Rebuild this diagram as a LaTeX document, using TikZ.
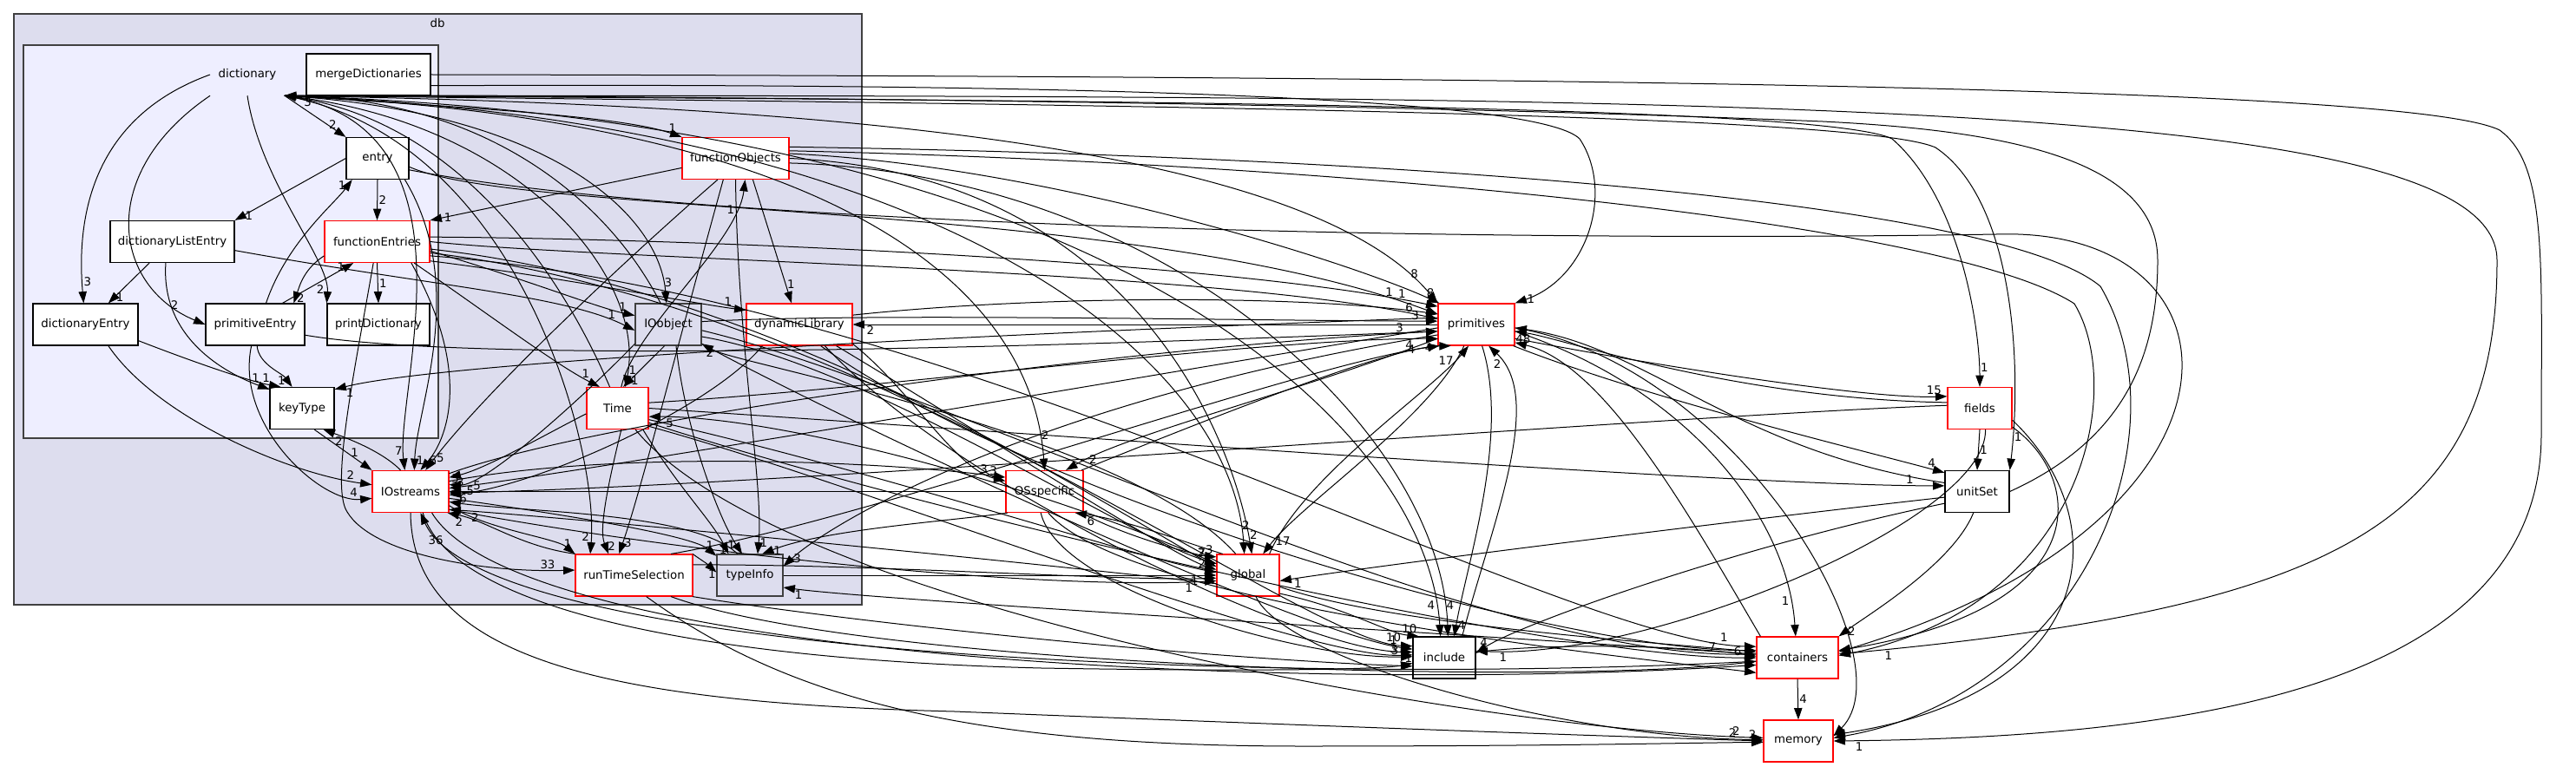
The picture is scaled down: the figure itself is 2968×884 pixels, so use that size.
\documentclass[tikz,border=0pt]{standalone}
\usepackage{fontspec}
\setmainfont{DejaVu Sans}
\usetikzlibrary{arrows.meta}
\definecolor{dbfill}{HTML}{DDDDEE}
\definecolor{dictfill}{HTML}{EEEEFF}
\definecolor{framegrey}{HTML}{404040}
\tikzset{
  txt/.style={font=\fontsize{10}{12}\selectfont, inner sep=1pt},
  dirbox/.style={draw=black, fill=white, line width=0.9pt, minimum height=36pt, inner sep=0pt, font=\fontsize{10}{12}\selectfont},
  cutbox/.style={dirbox, draw=red},
  dbbox/.style={dirbox, fill=dbfill, draw=framegrey},
  clusterline/.style={draw=framegrey, line width=1pt},
  dep/.style={-{Triangle[length=10pt,width=7pt]}, line width=0.75pt},
  num/.style={font=\fontsize{10}{12}\selectfont, inner sep=1pt},
}
\begin{document}
\begin{tikzpicture}[x=0.75pt,y=-0.75pt]
  \useasboundingbox (0,0) rectangle (2968,884);
  % clusters
  \draw[clusterline,fill=dbfill] (16,16) rectangle (993,697);
  \node[txt] at (504,27) {db};
  \draw[clusterline,fill=dictfill] (27,52) rectangle (505,505);
  % directories
  \node[txt,minimum width=64pt,minimum height=36pt,inner sep=0pt] (dict) at (285,86) {dictionary};
  \node[dirbox,minimum width=107.25pt] (mergeDict) at (424.5,86) {mergeDictionaries};
  \node[dirbox,minimum width=54pt] (entry) at (435,182.5) {entry};
  \node[dirbox,minimum width=107.25pt] (dictListEntry) at (198.5,278.5) {dictionaryListEntry};
  \node[cutbox,minimum width=90.75pt] (funcEntries) at (434.5,278.5) {functionEntries};
  \node[dirbox,minimum width=90.75pt] (dictEntry) at (98.5,374) {dictionaryEntry};
  \node[dirbox,minimum width=85.5pt] (primEntry) at (294,374) {primitiveEntry};
  \node[dirbox,minimum width=88.5pt] (printDict) at (436,374) {printDictionary};
  \node[dirbox,minimum width=55.5pt] (keyType) at (348,470.5) {keyType};
  \node[dbbox,minimum width=57pt] (IOobject) at (770,374) {IOobject};
  \node[cutbox,minimum width=91.5pt] (dynLib) at (921,374) {dynamicLibrary};
  \node[cutbox,minimum width=92.25pt] (funcObjects) at (847.5,182.5) {functionObjects};
  \node[cutbox,minimum width=53.25pt] (Time) at (711.5,470.5) {Time};
  \node[cutbox,minimum width=66pt] (IOstreams) at (473,566.5) {IOstreams};
  \node[cutbox,minimum width=101.25pt] (rts) at (730.5,663) {runTimeSelection};
  \node[dbbox,minimum width=57pt] (typeInfo) at (864,663) {typeInfo};
  \node[cutbox,minimum width=66pt] (primitives) at (1701,374) {primitives};
  \node[cutbox,minimum width=66.75pt] (OSspecific) at (1203.5,566.5) {OSspecific};
  \node[cutbox,minimum width=54pt] (global) at (1438,663) {global};
  \node[dirbox,minimum width=54pt] (include) at (1664,758) {include};
  \node[cutbox,minimum width=55.5pt] (fields) at (2281,470.5) {fields};
  \node[dirbox,minimum width=55.5pt] (unitSet) at (2278,566.5) {unitSet};
  \node[cutbox,minimum width=70.5pt] (containers) at (2071,758) {containers};
  \node[cutbox,minimum width=60pt] (memory) at (2072,854) {memory};
  % inside dictionary
  \draw[dep] (dict.south east) -- (entry.north west) node[num,pos=0.7,right]{2};
  \draw[dep] (dict.west) .. controls (120,130) and (86,230) .. (dictEntry.95) node[num,pos=0.93,right]{3};
  \draw[dep] (dict.south west) .. controls (110,200) and (130,330) .. (primEntry.west) node[num,pos=0.9,above left]{2};
  \draw[dep] (dict.south) .. controls (300,210) and (380,300) .. (printDict.north west) node[num,pos=0.9,left]{2};
  \draw[dep] (entry.west) -- (dictListEntry.north east) node[num,pos=0.92,right]{1};
  \draw[dep] (entry.south) -- (funcEntries.north) node[num,midway,right]{2};
  \draw[dep] (dictListEntry.-137) -- (dictEntry.43) node[num,pos=0.85,right]{1};
  \draw[dep] (dictListEntry.-107) .. controls (185,390) and (260,430) .. (keyType.150) node[num,pos=0.9,above]{1};
  \draw[dep] (dictEntry.-17) .. controls (230,420) and (290,440) .. (keyType.135) node[num,pos=0.85,above]{1};
  \draw[dep] (dictEntry.-43) .. controls (180,480) and (330,545) .. (IOstreams.170) node[num,pos=0.92,above]{2};
  \draw[dep] (primEntry.63) .. controls (330,280) and (385,235) .. (entry.-140) node[num,pos=0.92,left]{1};
  \draw[dep] (primEntry.38) -- (funcEntries.-138) node[num,pos=0.9,left]{1};
  \draw[dep] (funcEntries.-165) .. controls (350,310) and (345,330) .. (primEntry.29) node[num,pos=0.9,right]{2};
  \draw[dep] (primEntry.-85) .. controls (298,420) and (325,430) .. (keyType.115) node[num,pos=0.85,left]{1};
  \draw[dep] (primEntry.-100) .. controls (270,490) and (370,580) .. (IOstreams.190) node[num,pos=0.92,above left]{4};
  \draw[dep] (funcEntries.south) -- (printDict.north) node[num,midway,right]{1};
  \draw[dep] (keyType.-60) -- (IOstreams.north west) node[num,pos=0.7,above]{1};
  \draw[dep] (IOstreams.115) .. controls (440,520) and (400,505) .. (keyType.-45) node[num,pos=0.8,below]{2};
  % dictionary to the rest
  \draw[dep] (dict.south east) .. controls (560,145) and (455,450) .. (IOstreams.105) node[num,pos=0.95,above left]{7};
  \draw[dep] (dict.south east) .. controls (560,125) and (720,135) .. (funcObjects.north west) node[num,pos=0.95,above]{1};
  \draw[dep] (dict.south east) .. controls (640,130) and (760,250) .. (IOobject.95) node[num,pos=0.92,right]{3};
  \draw[dep] (IOobject.110) .. controls (700,230) and (560,115) .. (dict.south east) node[num,pos=0.97,below right]{3};
  \draw[dep] (dict.south east) .. controls (600,140) and (745,320) .. (Time.70) node[num,pos=0.95,right]{1};
  \draw[dep] (Time.110) .. controls (640,300) and (520,140) .. (dict.south east);
  \draw[dep] (dict.south east) .. controls (900,120) and (1500,160) .. (primitives.north west) node[num,pos=0.95,above]{8};
  \draw[dep] (dict.south east) .. controls (1000,140) and (1190,350) .. (OSspecific.north) node[num,pos=0.93,right]{2};
  \draw[dep] (dict.south east) .. controls (1100,140) and (1420,420) .. (global.100) node[num,pos=0.95,right]{2};
  \draw[dep] (dict.south east) .. controls (1300,140) and (1645,500) .. (include.100) node[num,pos=0.95,left]{4};
  \draw[dep] (dict.south east) .. controls (1200,115) and (2100,120) .. (2180,160) .. controls (2260,230) and (2281,380) .. (fields.north) node[num,pos=0.9,right]{1};
  \draw[dep] (dict.south east) .. controls (1250,120) and (2140,130) .. (2230,170) .. controls (2320,230) and (2330,420) .. (unitSet.north east) node[num,pos=0.9,right]{1};
  \draw[dep] (unitSet.east) .. controls (2440,510) and (2486,420) .. (2486,300) .. controls (2486,180) and (2300,150) .. (2100,140) .. controls (1500,115) and (600,110) .. (dict.south east);
  \draw[dep] (dict.south east) .. controls (2000,110) and (2877,110) .. (2877,300) .. controls (2877,600) and (2700,700) .. (containers.5) node[num,pos=0.97,below right]{1};
  \draw[dep] (dict.south east) .. controls (600,160) and (690,520) .. (rts.154) node[num,pos=0.95,left]{2};
  \draw[dep] (mergeDict.east) .. controls (1800,88) and (2780,100) .. (2880,150) .. controls (2935,190) and (2928,300) .. (2928,500) .. controls (2928,800) and (2500,850) .. (memory.east) node[num,pos=0.98,below right]{1};
  \draw[dep] (mergeDict.-10) .. controls (1400,95) and (1780,120) .. (1820,160) .. controls (1860,220) and (1830,320) .. (primitives.north east) node[num,pos=0.95,right]{1};
  % entry
  \draw[dep] (entry.-38) .. controls (540,330) and (480,470) .. (IOstreams.80) node[num,pos=0.95,right]{1};
  \draw[dep] (entry.-15) .. controls (600,250) and (1300,230) .. (primitives.165) node[num,pos=0.95,above]{1};
  \draw[dep] (entry.-20) .. controls (800,260) and (1700,280) .. (2300,270) .. controls (2600,260) and (2620,600) .. (containers.8);
  \draw[dep] (dictListEntry.-8) .. controls (500,330) and (650,340) .. (IOobject.190) node[num,pos=0.9,above]{1};
  \draw[dep] (primEntry.-12) .. controls (550,420) and (1200,400) .. (primitives.-170);
  % functionEntries
  \draw[dep] (funcEntries.5) .. controls (800,275) and (1400,300) .. (primitives.155) node[num,pos=0.95,above]{1};
  \draw[dep] (funcEntries.0) .. controls (700,300) and (1400,310) .. (primitives.172) node[num,pos=0.96,above]{6};
  \draw[dep] (funcEntries.-10) .. controls (600,320) and (690,355) .. (IOobject.165) node[num,pos=0.9,above]{1};
  \draw[dep] (funcEntries.-20) .. controls (650,320) and (800,350) .. (dynLib.165) node[num,pos=0.9,above]{1};
  \draw[dep] (funcEntries.-30) .. controls (560,360) and (640,420) .. (Time.130) node[num,pos=0.9,above]{1};
  \draw[dep] (funcEntries.-32) .. controls (540,420) and (520,500) .. (IOstreams.65) node[num,pos=0.92,right]{6};
  \draw[dep] (funcEntries.-100) .. controls (410,420) and (380,560) .. (400,590) .. controls (430,640) and (560,660) .. (rts.175) node[num,pos=0.9,above]{33};
  \draw[dep] (funcEntries.-8) .. controls (900,330) and (1300,600) .. (global.165) node[num,pos=0.95,above]{2};
  \draw[dep] (funcEntries.-12) .. controls (1000,350) and (1500,740) .. (include.160) node[num,pos=0.95,above]{10};
  \draw[dep] (funcEntries.-15) .. controls (1100,340) and (1800,740) .. (containers.165) node[num,pos=0.95,above]{1};
  % functionObjects
  \draw[dep] (funcObjects.-170) -- (funcEntries.north east) node[num,pos=0.95,right]{1};
  \draw[dep] (funcObjects.-51) -- (dynLib.110) node[num,pos=0.85,right]{1};
  \draw[dep] (Time.80) .. controls (730,380) and (850,280) .. (funcObjects.-66) node[num,pos=0.85,left]{1};
  \draw[dep] (funcObjects.-130) .. controls (720,300) and (560,450) .. (IOstreams.55) node[num,pos=0.95,right]{5};
  \draw[dep] (funcObjects.-120) .. controls (780,400) and (740,560) .. (rts.125) node[num,pos=0.95,right]{3};
  \draw[dep] (funcObjects.-90) .. controls (850,400) and (880,560) .. (typeInfo.70) node[num,pos=0.95,right]{1};
  \draw[dep] (funcObjects.5) .. controls (1200,190) and (1550,300) .. (primitives.150) node[num,pos=0.97,above]{8};
  \draw[dep] (funcObjects.0) .. controls (1300,200) and (1420,500) .. (global.80) node[num,pos=0.95,right]{2};
  \draw[dep] (funcObjects.-5) .. controls (1350,200) and (1660,500) .. (include.80) node[num,pos=0.95,right]{4};
  \draw[dep] (funcObjects.8) .. controls (1600,190) and (2250,260) .. (2390,350) .. controls (2450,450) and (2400,700) .. (containers.3);
  \draw[dep] (funcObjects.12) .. controls (1600,180) and (2300,230) .. (2420,330) .. controls (2520,500) and (2400,800) .. (memory.5);
  % IOobject
  \draw[dep] (IOobject.-150) .. controls (680,450) and (560,560) .. (IOstreams.10) node[num,pos=0.95,above]{5};
  \draw[dep] (IOobject.-70) .. controls (790,500) and (830,600) .. (typeInfo.110) node[num,pos=0.92,left]{1};
  \draw[dep] (IOobject.-100) -- (Time.75) node[num,pos=0.85,right]{1};
  \draw[dep] (IOobject.5) .. controls (1000,360) and (1450,370) .. (primitives.175) node[num,pos=0.96,above]{3};
  \draw[dep] (IOobject.-20) .. controls (1000,420) and (1300,620) .. (global.160) node[num,pos=0.95,above]{7};
  \draw[dep] (IOobject.-30) .. controls (1000,500) and (1500,730) .. (include.165) node[num,pos=0.95,above]{1};
  \draw[dep] (IOobject.-10) .. controls (1100,450) and (1700,760) .. (containers.175) node[num,pos=0.95,above]{7};
  % dynamicLibrary
  \draw[dep] (dynLib.-20) .. controls (1050,450) and (1100,540) .. (OSspecific.165) node[num,pos=0.92,above]{3};
  \draw[dep] (dynLib.-150) .. controls (820,470) and (620,560) .. (IOstreams.-5) node[num,pos=0.95,below]{6};
  \draw[dep] (dynLib.-30) .. controls (1100,480) and (1350,640) .. (global.170) node[num,pos=0.95,above]{1};
  \draw[dep] (dynLib.-40) .. controls (1100,560) and (1500,750) .. (include.170);
  \draw[dep] (dynLib.-45) .. controls (1200,580) and (1800,750) .. (containers.170);
  \draw[dep] (primitives.180) -- (dynLib.east) node[num,pos=0.97,below]{2};
  \draw[dep] (dynLib.10) .. controls (1200,340) and (1500,340) .. (primitives.165);
  % Time
  \draw[dep] (Time.-170) .. controls (630,500) and (560,540) .. (IOstreams.20) node[num,pos=0.95,below right]{3};
  \draw[dep] (Time.-80) .. controls (700,560) and (690,610) .. (rts.140) node[num,pos=0.9,right]{2};
  \draw[dep] (Time.-40) .. controls (780,560) and (820,600) .. (typeInfo.135) node[num,pos=0.9,below]{1};
  \draw[dep] (Time.10) .. controls (1000,450) and (1450,390) .. (primitives.-160) node[num,pos=0.95,below]{4};
  \draw[dep] (Time.-20) .. controls (1000,540) and (1300,640) .. (global.175) node[num,pos=0.95,above]{2};
  \draw[dep] (Time.-30) .. controls (1000,560) and (1500,760) .. (include.175) node[num,pos=0.95,above]{3};
  \draw[dep] (Time.-25) .. controls (1100,600) and (1800,760) .. (containers.180) node[num,pos=0.97,above]{6};
  \draw[dep] (Time.-50) .. controls (900,700) and (1700,840) .. (memory.175) node[num,pos=0.97,above]{2};
  \draw[dep] (Time.0) .. controls (1200,500) and (2000,560) .. (unitSet.170) node[num,pos=0.95,above]{1};
  % IOstreams
  \draw[dep] (IOstreams.15) .. controls (700,520) and (1000,530) .. (OSspecific.160) node[num,pos=0.95,above]{3};
  \draw[dep] (IOstreams.-25) .. controls (800,640) and (1200,680) .. (global.-170) node[num,pos=0.95,below]{1};
  \draw[dep] (IOstreams.-90) .. controls (475,760) and (700,810) .. (1100,820) .. controls (1600,840) and (1900,850) .. (memory.180) node[num,pos=0.97,above]{2};
  \draw[dep] (IOstreams.-60) .. controls (520,700) and (800,760) .. (1200,770) .. controls (1500,775) and (1600,770) .. (include.-170) node[num,pos=0.95,above]{1};
  \draw[dep] (IOstreams.-45) .. controls (600,760) and (1500,800) .. (containers.-170);
  \draw[dep] (IOstreams.-20) .. controls (560,610) and (640,620) .. (rts.north west) node[num,pos=0.9,above]{1};
  \draw[dep] (IOstreams.-10) .. controls (700,600) and (800,620) .. (typeInfo.150) node[num,pos=0.92,above]{1};
  \draw[dep] (IOstreams.25) .. controls (700,480) and (1300,400) .. (primitives.-170) node[num,pos=0.96,above]{3};
  % runTimeSelection
  \draw[dep] (rts.160) .. controls (600,630) and (560,600) .. (IOstreams.-30) node[num,pos=0.9,below]{2};
  \draw[dep] (rts.20) .. controls (800,640) and (815,650) .. (typeInfo.175) node[num,pos=0.85,below]{1};
  \draw[dep] (rts.-20) .. controls (1000,720) and (1400,760) .. (include.-165);
  \draw[dep] (rts.-30) .. controls (1000,770) and (1800,790) .. (containers.-175);
  \draw[dep] (rts.-60) .. controls (900,800) and (1100,860) .. (1500,860) .. controls (1800,860) and (1950,856) .. (memory.-178);
  \draw[dep] (rts.30) .. controls (1000,600) and (1500,420) .. (primitives.-150) node[num,pos=0.95,left]{4};
  \draw[dep] (rts.10) .. controls (1000,650) and (1300,670) .. (global.-175);
  % typeInfo
  \draw[dep] (typeInfo.east) -- (global.west) node[num,pos=0.95,below]{1};
  \draw[dep] (typeInfo.120) .. controls (800,590) and (600,590) .. (IOstreams.-15);
  % primitives
  \draw[dep] (global.45) .. controls (1500,550) and (1650,450) .. (primitives.-110) node[num,pos=0.9,left]{17};
  \draw[dep] (primitives.-120) .. controls (1650,480) and (1500,580) .. (global.55) node[num,pos=0.92,right]{17};
  \draw[dep] (primitives.-75) .. controls (1740,500) and (1690,650) .. (include.65) node[num,pos=0.95,right]{4};
  \draw[dep] (include.50) .. controls (1720,600) and (1780,460) .. (primitives.-60) node[num,pos=0.9,left]{2};
  \draw[dep] (primitives.-175) .. controls (1400,420) and (700,540) .. (IOstreams.5) node[num,pos=0.96,below]{5};
  \draw[dep] (primitives.-20) .. controls (1900,420) and (2150,460) .. (fields.160) node[num,pos=0.95,above]{15};
  \draw[dep] (primitives.-30) .. controls (1900,460) and (2150,520) .. (unitSet.150) node[num,pos=0.95,above]{4};
  \draw[dep] (primitives.-160) .. controls (1500,450) and (1300,500) .. (OSspecific.45) node[num,pos=0.9,right]{2};
  \draw[dep] (primitives.-10) .. controls (1950,450) and (2060,600) .. (containers.95) node[num,pos=0.9,left]{1};
  \draw[dep] (primitives.-165) .. controls (1200,460) and (960,600) .. (typeInfo.15) node[num,pos=0.95,right]{3};
  \draw[dep] (primitives.170) .. controls (1000,390) and (500,420) .. (keyType.30) node[num,pos=0.97,below right]{1};
  \draw[dep] (primitives.-5) .. controls (2000,420) and (2200,760) .. (memory.8);
  % OSspecific
  \draw[dep] (OSspecific.west) -- (IOstreams.east) node[num,pos=0.95,above]{5};
  \draw[dep] (OSspecific.-30) .. controls (1300,620) and (1380,640) .. (global.150) node[num,pos=0.9,above]{3};
  \draw[dep] (global.140) .. controls (1350,620) and (1300,600) .. (OSspecific.-35) node[num,pos=0.9,below]{6};
  \draw[dep] (OSspecific.30) .. controls (1400,480) and (1600,400) .. (primitives.-140) node[num,pos=0.92,left]{4};
  \draw[dep] (OSspecific.-100) .. controls (1220,680) and (1500,760) .. (include.178) node[num,pos=0.95,above]{3};
  \draw[dep] (OSspecific.-80) .. controls (1300,700) and (1900,760) .. (containers.-160);
  \draw[dep] (OSspecific.-150) .. controls (1100,600) and (950,610) .. (typeInfo.60) node[num,pos=0.95,right]{1};
  % global
  \draw[dep] (global.-30) .. controls (1550,700) and (1600,730) .. (include.140) node[num,pos=0.9,above]{10};
  \draw[dep] (global.-20) .. controls (1600,720) and (1900,740) .. (containers.172);
  \draw[dep] (global.-70) .. controls (1480,760) and (1800,850) .. (memory.178) node[num,pos=0.95,above]{2};
  \draw[dep] (global.-165) .. controls (1200,650) and (700,600) .. (IOstreams.-25) node[num,pos=0.95,below]{2};
  \draw[dep] (global.120) .. controls (1300,500) and (850,420) .. (IOobject.-30) node[num,pos=0.95,below]{2};
  \draw[dep] (global.160) .. controls (1200,560) and (900,480) .. (Time.-15) node[num,pos=0.95,below]{5};
  % include
  \draw[dep] (include.10) .. controls (1800,740) and (1950,745) .. (containers.178);
  % fields
  \draw[dep] (fields.south) -- (unitSet.north) node[num,midway,right]{1};
  \draw[dep] (fields.-30) .. controls (2400,550) and (2420,700) .. (containers.10);
  \draw[dep] (fields.-20) .. controls (2440,600) and (2420,800) .. (memory.10);
  \draw[dep] (fields.170) .. controls (2000,460) and (1800,390) .. (primitives.-10) node[num,pos=0.95,below]{48};
  \draw[dep] (fields.-75) .. controls (2290,600) and (1900,760) .. (include.12) node[num,pos=0.95,below]{1};
  \draw[dep] (fields.175) .. controls (1900,480) and (900,560) .. (IOstreams.-2);
  % unitSet
  \draw[dep] (unitSet.-100) .. controls (2250,650) and (2150,710) .. (containers.north east) node[num,pos=0.92,right]{2};
  \draw[dep] (unitSet.-160) .. controls (2000,630) and (1750,720) .. (include.8) node[num,pos=0.95,above]{4};
  \draw[dep] (unitSet.-170) .. controls (2000,600) and (1600,650) .. (global.-10) node[num,pos=0.95,below]{1};
  \draw[dep] (unitSet.165) .. controls (2000,520) and (1900,400) .. (primitives.-5);
  % containers
  \draw[dep] (containers.south) -- (memory.north) node[num,midway,right]{4};
  \draw[dep] (containers.-175) .. controls (1500,790) and (560,760) .. (IOstreams.-65) node[num,pos=0.95,below]{36};
  \draw[dep] (containers.150) .. controls (1950,600) and (1850,420) .. (primitives.-25);
  \draw[dep] (containers.175) .. controls (1500,720) and (1000,690) .. (typeInfo.-20) node[num,pos=0.95,below]{1};
\end{tikzpicture}
\end{document}
